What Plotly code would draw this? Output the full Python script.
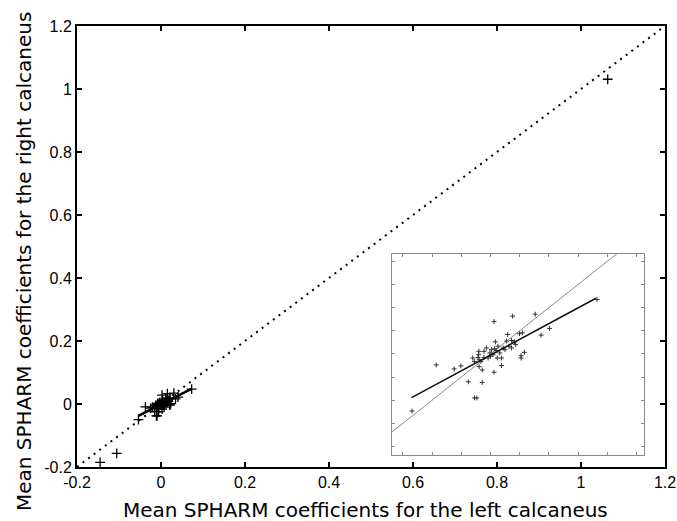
import plotly.graph_objects as go

# Cluster of mean SPHARM coefficients (left vs right)
cluster_x = [-0.0537, -0.0371, -0.0248, -0.0202, -0.0151, -0.0109, -0.0093, -0.0056, -0.0056,
             0.0025, 0.0152, 0.0307, 0.0405, 0.0347, 0.0219, 0.0199, 0.0118, 0.0233, 0.0210,
             0.0210, 0.0076, 0.0025, 0.0034, 0.0173, 0.0145, -0.0079, -0.0044, -0.0085, -0.0077,
             -0.0077, 0.0007, -0.0028, -0.0003, 0.0018, 0.0040, 0.0052, 0.0088, 0.0111, 0.0100,
             0.0064, -0.0016, -0.0044, 0.0000, 0.0029, 0.0127, 0.0076, 0.0047, -0.0081, -0.0065,
             -0.0121, -0.0110, 0.0145, 0.0165, 0.0730]
cluster_y = [-0.0493, -0.0094, -0.0129, -0.0103, -0.0240, -0.0380, -0.0380, -0.0246, -0.0138,
             0.0280, 0.0327, 0.0344, 0.0221, 0.0163, 0.0183, 0.0175, 0.0169, 0.0014, -0.0015,
             -0.0035, -0.0100, -0.0158, 0.0105, 0.0081, 0.0117, 0.0023, 0.0023, -0.0030, -0.0050,
             -0.0109, 0.0037, 0.0052, 0.0009, -0.0006, 0.0029, 0.0067, 0.0052, 0.0111, 0.0037,
             0.0009, -0.0035, -0.0030, -0.0020, 0.0045, 0.0067, -0.0035, -0.0035, -0.0006, -0.0065,
             -0.0035, -0.0065, 0.0052, 0.0105, 0.0470]
outlier_x = [-0.145, -0.1055, 1.0636]
outlier_y = [-0.185, -0.157, 1.031]

# Regression line through the cluster
fit_x = [-0.054, 0.0723]
fit_y = [-0.0377, 0.0481]

# Identity line
ident_main = [-0.2, 1.2]
ident_inset = [-0.09, 0.11]

x_ticks = [-0.2, 0, 0.2, 0.4, 0.6, 0.8, 1, 1.2]
x_tick_text = ["-0.2", "0", "0.2", "0.4", "0.6", "0.8", "1", "1.2"]
inset_xticks = [-0.06, -0.04, -0.02, 0, 0.02, 0.04, 0.06, 0.08, 0.1]
inset_yticks = [-0.08, -0.06, -0.04, -0.02, 0, 0.02, 0.04, 0.06, 0.08]

x_title = "Mean SPHARM coefficients for the left calcaneus"
y_title = "Mean SPHARM coefficients for the right calcaneus"

fig = go.Figure()

# main plot
fig.add_trace(go.Scatter(x=ident_main, y=ident_main, mode="lines",
                         line=dict(color="black", width=2, dash="2px,5px"),
                         xaxis="x", yaxis="y", showlegend=False, hoverinfo="skip"))
fig.add_trace(go.Scatter(x=cluster_x + outlier_x, y=cluster_y + outlier_y, mode="markers",
                         marker=dict(symbol="cross-thin", size=7,
                                     line=dict(color="black", width=1.3)),
                         xaxis="x", yaxis="y", showlegend=False))
fig.add_trace(go.Scatter(x=fit_x, y=fit_y, mode="lines",
                         line=dict(color="black", width=2.5),
                         xaxis="x", yaxis="y", showlegend=False))

# inset
fig.add_trace(go.Scatter(x=ident_inset, y=ident_inset, mode="lines",
                         line=dict(color="#8a8a8a", width=1),
                         xaxis="x2", yaxis="y2", showlegend=False, hoverinfo="skip"))
fig.add_trace(go.Scatter(x=cluster_x, y=cluster_y, mode="markers",
                         marker=dict(symbol="cross-thin", size=3.5,
                                     line=dict(color="#333333", width=1)),
                         xaxis="x2", yaxis="y2", showlegend=False))
fig.add_trace(go.Scatter(x=fit_x, y=fit_y, mode="lines",
                         line=dict(color="#111111", width=1.6),
                         xaxis="x2", yaxis="y2", showlegend=False))

tickfont = dict(family="Liberation Sans", size=16, color="black")
titlefont = dict(family="DejaVu Sans", size=20, color="black")

fig.update_layout(
    width=677, height=521,
    margin=dict(l=77, r=12, t=26, b=54),
    paper_bgcolor="white", plot_bgcolor="white",
    xaxis=dict(range=[-0.2, 1.2], domain=[0, 1], tickvals=x_ticks, ticktext=x_tick_text,
               ticks="inside", ticklen=5, tickwidth=1.5, tickcolor="black",
               showline=True, linecolor="black", linewidth=2, mirror="ticks",
               showgrid=False, zeroline=False, tickfont=tickfont, automargin=False),
    yaxis=dict(range=[-0.2, 1.2], domain=[0, 1], tickvals=x_ticks, ticktext=x_tick_text,
               ticks="inside", ticklen=5, tickwidth=1.5, tickcolor="black",
               showline=True, linecolor="black", linewidth=2, mirror="ticks",
               showgrid=False, zeroline=False, tickfont=tickfont, automargin=False),
    xaxis2=dict(range=[-0.0674, 0.1052], domain=[0.5357, 0.9643], anchor="y2",
                tickvals=inset_xticks, showticklabels=False,
                ticks="inside", ticklen=3, tickwidth=1, tickcolor="#8a8a8a",
                showline=True, linecolor="#8a8a8a", linewidth=1, mirror="ticks",
                showgrid=False, zeroline=False),
    yaxis2=dict(range=[-0.0873, 0.0864], domain=[0.0272, 0.483], anchor="x2",
                tickvals=inset_yticks, showticklabels=False,
                ticks="inside", ticklen=3, tickwidth=1, tickcolor="#8a8a8a",
                showline=True, linecolor="#8a8a8a", linewidth=1, mirror="ticks",
                showgrid=False, zeroline=False),
    annotations=[
        dict(text=x_title, xref="paper", yref="paper", x=0.49, y=-0.0975,
             xanchor="center", yanchor="middle", showarrow=False, font=titlefont),
        dict(text=y_title, xref="paper", yref="paper", x=-0.090, y=0.465, textangle=-90,
             xanchor="center", yanchor="middle", showarrow=False, font=titlefont),
    ],
)

fig.write_html("out.html", config=dict(displayModeBar=False),
               post_script="document.body.style.margin='0';document.body.style.padding='0';"
                           "document.body.style.overflow='hidden';")
